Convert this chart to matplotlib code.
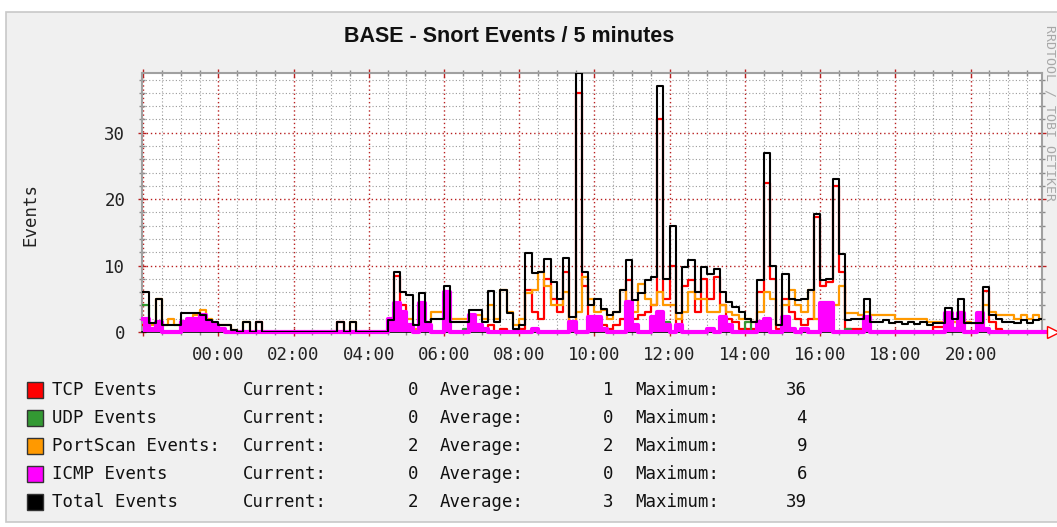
import numpy as np
import matplotlib
matplotlib.use('Agg')
import matplotlib.pyplot as plt
from matplotlib.patches import Rectangle

# one value per 10 minute bin, starting 22:00 the day before (hour -2)
start_hour = -2.0
bin_hours = 1 / 6

tcp = [
    1, 0, 1, 0, 0, 0,            # -2
    0.5, 0.5, 1, 0.5, 0, 0,      # -1
    0, 0, 0, 0, 0, 0,            # 0
    1.5, 0, 0, 0, 0, 0,          # 1
    0, 0, 0, 0, 0, 0,            # 2
    0, 1.5, 0, 0, 0, 0,          # 3
    0, 0, 0, 0.5, 8.4, 4,        # 4
    1, 0, 1, 0, 0, 0,            # 5
    0, 0, 0, 0, 0, 0,            # 6
    0, 1, 0, 0.5, 0, 0,          # 7
    0.5, 6.3, 3, 2, 8, 5,        # 8
    3, 9, 1, 36, 7, 2,           # 9
    2, 1, 0.5, 1, 2, 7.8,        # 10
    2, 2.5, 3, 4, 32, 5,         # 11
    10, 1, 7, 7.8, 3, 8,         # 12
    5, 8.3, 4, 2, 1.5, 0.5,      # 13
    0.5, 0.5, 6, 22.5, 8, 0.5,   # 14
    5, 3, 2, 1, 2, 17.3,         # 15
    7, 7.5, 22, 9, 0.5, 0.5,     # 16
    0.5, 1, 0, 0, 0, 0,          # 17
    0, 0, 0, 0, 0, 0,            # 18
    0.8, 0.8, 1, 0, 2, 0,        # 19
    0, 0, 6.2, 1.5, 0.5, 0,      # 20
    0, 0, 0, 0, 0, 0,            # 21
]

udp = [
    4, 0, 0, 0, 0, 0,
    0, 0, 0, 0.8, 0, 0,
    0, 0, 0, 0, 0, 0,
    0, 0, 0, 0, 0, 0,
    0, 0, 0, 0, 0, 0,
    0, 0, 0, 0, 0, 0,
    0, 0, 0, 0, 0, 0,
    0, 0, 0, 0, 0, 0,
    0, 0, 0, 0.5, 0, 0,
    0, 0, 0, 0, 0, 0,
    0, 0, 0, 0, 0, 0,
    0, 0, 0.5, 0, 0, 0,
    0, 0, 0, 0, 0, 0,
    0, 0, 0, 0, 0, 1.5,
    0, 0, 0, 0, 0, 0,
    0, 0, 0, 0, 0, 0,
    1.5, 0, 0.8, 0, 0, 0,
    0, 0, 0, 0, 0, 0,
    0, 0, 0, 0, 0.5, 0,
    0, 0, 0, 0, 0, 0,
    0, 0, 0, 0, 0, 0,
    0, 0, 0, 0, 0, 0,
    0, 0, 0.5, 0, 0, 0,
    0, 0, 0, 0, 0, 0,
]

portscan = [
    2, 1, 5, 1, 2, 1,
    1.5, 2, 2.5, 3.3, 2, 1,
    1, 1, 0.3, 0, 1.5, 0,
    0, 0, 0, 0, 0, 0,
    0, 0, 0, 0, 0, 0,
    0, 0, 0, 1.5, 0, 0,
    0, 0, 0, 1, 2, 1.5,
    2, 0.5, 3, 1.5, 3, 3,
    2, 2, 2, 2, 2, 2.5,
    2, 4, 2, 6.3, 3, 1,
    2, 5.8, 6.3, 9, 7, 4,
    4, 6, 1.5, 3, 8.3, 5,
    3, 3.3, 2, 3, 6.3, 4,
    3, 7.3, 5, 4, 6, 4,
    4, 2, 3, 6, 5, 5,
    3, 3, 4, 3, 2.5, 2,
    2, 1.5, 3, 6, 5, 1,
    4, 6.3, 4, 3, 6.3, 2,
    2, 3, 4, 7, 2.8, 2.8,
    2.5, 3, 2.5, 2.5, 2.5, 2.5,
    2, 2, 2, 2, 2, 1.5,
    1.5, 1.5, 2.5, 1.5, 3, 1.5,
    1.3, 1.3, 4, 3, 2.5, 2.5,
    2.5, 2, 2.5, 2, 2.5, 2,
]

icmp = [
    2, 0.5, 1.5, 0, 0, 0,
    1.5, 2, 2, 2.5, 1.5, 1,
    0.5, 0, 0, 0, 0, 0,
    0, 0, 0, 0, 0, 0,
    0, 0, 0, 0, 0, 0,
    0, 0, 0, 0, 0, 0,
    0, 0, 0, 2, 4.3, 3,
    1, 0, 4.3, 1, 0, 0,
    6, 0, 0, 0, 2.5, 1,
    0.5, 0, 0, 0, 0, 0,
    0, 0, 0.5, 0, 0, 0,
    0, 0, 1.5, 0, 0, 2.3,
    2.3, 0.5, 0, 0, 0, 4.5,
    1, 0, 0, 2.3, 3, 1,
    0, 1, 0, 0, 0, 0,
    0.5, 0, 2.3, 1, 0, 0,
    0, 0, 1.5, 2, 0, 0,
    2.3, 0.5, 0, 0.5, 0, 0,
    4.3, 4.3, 0, 0, 0, 0,
    0, 2.3, 0, 0, 0, 0,
    0, 0, 0, 0, 0, 0,
    0, 0, 2.8, 0.5, 2.8, 0,
    0, 2.8, 0.5, 0, 0, 0,
    0, 0, 0, 0, 0, 0,
]

total = [
    6, 1.3, 5, 1, 1, 1,
    2.8, 2.8, 2.8, 2.5, 1.8, 1.5,
    1, 1, 0.3, 0, 1.5, 0,
    1.5, 0, 0, 0, 0, 0,
    0, 0, 0, 0, 0, 0,
    0, 1.5, 0, 1.5, 0, 0,
    0, 0, 0, 1.8, 9, 6,
    5.5, 1, 5.8, 1.5, 2, 2,
    7, 1.5, 1.5, 1.5, 3.3, 3.3,
    1.5, 6.2, 1.5, 6.3, 2.8, 0.5,
    1, 11.9, 8.9, 9, 11, 7.5,
    5, 11.2, 2.3, 39, 9, 4,
    5, 3.5, 2.5, 3, 6.3, 10.8,
    4.8, 5.8, 7.8, 8.3, 37, 8,
    15.9, 2.8, 9.8, 10.9, 6, 9.8,
    8.8, 9.5, 6, 4.5, 3.8, 3,
    2, 1.5, 7.8, 27, 10, 1,
    8.75, 5, 4.8, 5, 6.3, 17.8,
    7.8, 8, 23, 11.8, 1.8, 2,
    2, 5, 1.5, 1.5, 1.8, 1.3,
    1.5, 1.2, 1.5, 1.2, 1.5, 1,
    1.3, 1.3, 3.6, 2, 5, 1.3,
    1.3, 1.3, 6.8, 2.5, 2, 1.5,
    1.5, 1.3, 1.8, 1.3, 1.8, 2,
]

legend_names = ['TCP Events', 'UDP Events', 'PortScan Events:', 'ICMP Events', 'Total Events']
legend_colors = ['#ff0000', '#339933', '#ff9900', '#ff00ff', '#000000']
current_vals = [0, 0, 2, 0, 2]
average_vals = [1, 0, 2, 0, 3]
maximum_vals = [36, 4, 9, 6, 39]

hour_ticks = list(range(-2, 21, 2))
hour_labels = [''] + ['%02d:00' % h for h in range(0, 21, 2)]

W, H = 1057, 527
MONO = 'DejaVu Sans Mono'


def fx(px):
    return px / W


def fy(py):
    return 1 - py / H


def steps(values):
    # append the closing edge so the last bin is drawn to its end
    t = start_hour + bin_hours * np.arange(len(values) + 1)
    return t, np.append(values, values[-1])


fig = plt.figure(figsize=(W / 100, H / 100), dpi=100, facecolor='white')
fig.patches.append(Rectangle((fx(6), fy(522)), 1.0, fy(12) - fy(522), transform=fig.transFigure,
                             facecolor='#f0f0f0', edgecolor='#c8c8c8', linewidth=1.2, zorder=-10))

ax = fig.add_axes([fx(142), fy(332), fx(1042) - fx(142), fy(73) - fy(332)])
ax.set_facecolor('white')

t, v = steps(tcp)
ax.plot(t, v, drawstyle='steps-post', color='#ff0000', lw=1.6, zorder=3)
t, v = steps(udp)
ax.plot(t, v, drawstyle='steps-post', color='#339933', lw=1.6, zorder=4)
t, v = steps(portscan)
ax.plot(t, v, drawstyle='steps-post', color='#ff9900', lw=1.6, zorder=5)
t, v = steps(icmp)
ax.fill_between(t, v, step='post', color='#ff00ff', lw=0, zorder=6)
ax.plot(t, v, drawstyle='steps-post', color='#ff00ff', lw=3.0, zorder=6, clip_on=False)
t, v = steps(total)
ax.plot(t, v, drawstyle='steps-post', color='#000000', lw=1.5, zorder=7)

ax.set_xlim(-2.03, 21.9)
ax.set_ylim(0, 39)

ax.set_xticks(hour_ticks)
ax.set_xticklabels(hour_labels)
ax.set_xticks(np.arange(-2, 22, 0.5), minor=True)
ax.set_yticks([0, 10, 20, 30])
ax.set_yticks(np.arange(0, 39, 2), minor=True)

ax.grid(which='minor', color='#9a9a9a', linestyle=(0, (1, 2)), lw=0.8, zorder=0)
ax.grid(which='major', color='#b82020', linestyle=(0, (1, 2)), lw=1.0, zorder=1)

ax.tick_params(which='both', direction='inout', top=True, right=True, labelsize=12.5)
ax.tick_params(which='major', length=6, color='#b82020', width=1)
ax.tick_params(which='minor', length=5, color='#8a8a8a', width=1)
ax.tick_params(axis='x', which='major', pad=7)
ax.tick_params(axis='y', which='major', pad=9)
for lab in ax.get_xticklabels() + ax.get_yticklabels():
    lab.set_fontfamily(MONO)
    lab.set_color('#222222')

for side in ['top', 'right', 'left']:
    ax.spines[side].set_color('#a0a0a0')
    ax.spines[side].set_linewidth(1.5)
ax.spines['bottom'].set_color('#000000')
ax.spines['bottom'].set_linewidth(1.2)

# arrow at the end of the time axis
ax.plot([1.012], [0], marker='>', markersize=8, markerfacecolor='white', markeredgecolor='#ff0000',
        transform=ax.transAxes, clip_on=False, zorder=10)

fig.text(fx(509), fy(37), 'BASE - Snort Events / 5 minutes', ha='center', va='center',
         fontsize=15.5, fontweight='bold', family=['Liberation Sans Narrow', 'Liberation Sans', 'DejaVu Sans'],
         color='#111111')
fig.text(fx(30), fy(215), 'Events', rotation=90, ha='center', va='center', fontsize=12.5,
         family=MONO, color='#222222')
fig.text(fx(1050), fy(25), 'RRDTOOL / TOBI OETIKER', rotation=270, ha='center', va='top',
         fontsize=9.5, family=MONO, color='#a8a8a8')

# legend rows
for i, name in enumerate(legend_names):
    y = 390 + 28 * i
    fig.patches.append(Rectangle((fx(27), fy(y + 8)), fx(43) - fx(27), fy(y - 8) - fy(y + 8),
                                 transform=fig.transFigure, facecolor=legend_colors[i],
                                 edgecolor='#333333', linewidth=1))
    kw = dict(va='center', fontsize=12.5, family=MONO, color='#111111')
    fig.text(fx(52), fy(y), name, ha='left', **kw)
    fig.text(fx(243), fy(y), 'Current:', ha='left', **kw)
    fig.text(fx(418), fy(y), str(current_vals[i]), ha='right', **kw)
    fig.text(fx(440), fy(y), 'Average:', ha='left', **kw)
    fig.text(fx(613), fy(y), str(average_vals[i]), ha='right', **kw)
    fig.text(fx(635), fy(y), 'Maximum:', ha='left', **kw)
    fig.text(fx(807), fy(y), str(maximum_vals[i]), ha='right', **kw)

fig.savefig('out.png', dpi=100, facecolor=fig.get_facecolor())
